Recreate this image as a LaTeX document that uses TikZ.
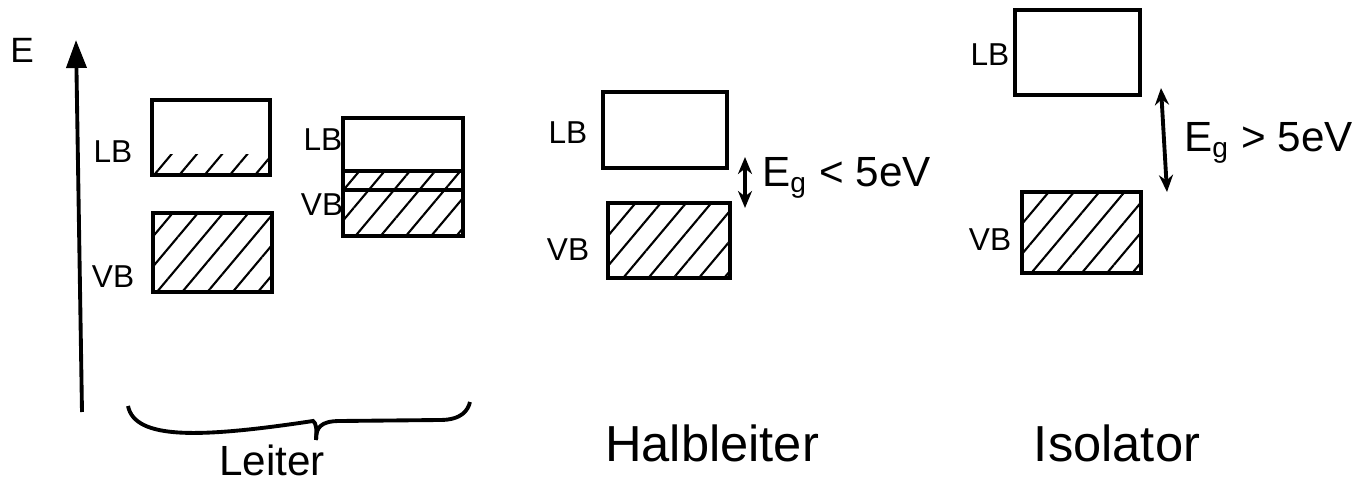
\documentclass[tikz,border=0pt]{standalone}
\usepackage{fontspec}
\setmainfont{Liberation Sans}
\usetikzlibrary{arrows.meta,patterns.meta}
\begin{document}
\begin{tikzpicture}[x=0.01cm,y=-0.01cm,
  band/.style={draw,line width=1.1pt,rectangle,inner sep=0pt},
  hatch/.style={pattern={Lines[angle=50,distance=5.5pt,line width=0.6pt]}},
  lbl/.style={font=\small},
  gap/.style={line width=1.1pt,{Stealth[length=0.17cm,width=0.14cm]}-{Stealth[length=0.17cm,width=0.14cm]}},
  egl/.style={font=\large,anchor=west,inner sep=1pt},
  big/.style={font=\Large}]
\useasboundingbox (0,0) rectangle (1357,479);
% energy axis
\coordinate (a0) at (82,412);
\coordinate (a1) at (76,40);
\draw[line width=1.1pt,-{Triangle[length=0.28cm,width=0.2cm]}] (a0) -- (a1);
\node[font=\normalsize] (E) at (22,50) {E};
% Leiter 1
\node[band,minimum width=1.18cm,minimum height=0.75cm] (lb1) at (211,137.5) {};
\path[hatch] (lb1.south west) rectangle ([yshift=0.22cm]lb1.south east);
\node[band,hatch,minimum width=1.19cm,minimum height=0.79cm] (vb1) at (212.5,252.5) {};
\node[lbl] (lb1l) at (113,152) {LB};
\node[lbl] (vb1l) at (113,277) {VB};
% Leiter 2
\node[band,minimum width=1.20cm,minimum height=1.18cm] (b2) at (403,177) {};
\coordinate (b2a) at (343,171); \coordinate (b2b) at (463,171);
\coordinate (b2c) at (343,190); \coordinate (b2d) at (463,190);
\path[hatch] (b2a) rectangle (b2.south east);
\draw[line width=1.1pt] (b2a) -- (b2b);
\draw[line width=1.1pt] (b2c) -- (b2d);
\node[lbl] (lb2l) at (323,140) {LB};
\node[lbl] (vb2l) at (322,205) {VB};
% brace
\coordinate (br0) at (128,406);
\coordinate (br1) at (313,421);
\coordinate (br2) at (316,440);
\coordinate (br3) at (470,402);
\draw[line width=1.1pt] (br0) .. controls (135,440) and (200,438) .. (br1)
  .. controls (316,423) and (317,428) .. (br2);
\draw[line width=1.1pt] (br2) .. controls (316,428) and (320,421) .. (340,421)
  -- (440,420) .. controls (462,420) and (468,410) .. (br3);
\node[font=\large] (leiter) at (272,460) {Leiter};
% Halbleiter
\node[band,minimum width=1.24cm,minimum height=0.76cm] (lb3) at (665,130) {};
\node[band,hatch,minimum width=1.22cm,minimum height=0.75cm] (vb3) at (669,240.5) {};
\node[lbl] (lb3l) at (568,133) {LB};
\node[lbl] (vb3l) at (568,250) {VB};
\coordinate (g3t) at (745,157);
\coordinate (g3b) at (745,208);
\draw[gap] (g3t) -- (g3b);
\node[egl] (eg3) at (758,178) {E\textsubscript{g} < 5eV};
\node[big] (halb) at (712,443) {Halbleiter};
% Isolator
\node[band,minimum width=1.25cm,minimum height=0.85cm] (lb4) at (1077.5,52.5) {};
\node[band,hatch,minimum width=1.19cm,minimum height=0.81cm] (vb4) at (1081.5,232.5) {};
\node[lbl] (lb4l) at (990,55) {LB};
\node[lbl] (vb4l) at (990,240) {VB};
\coordinate (g4t) at (1161,88);
\coordinate (g4b) at (1167,192);
\draw[gap] (g4t) -- (g4b);
\node[egl] (eg4) at (1180,143) {E\textsubscript{g} > 5eV};
\node[big] (iso) at (1117,443) {Isolator};
\end{tikzpicture}
\end{document}
